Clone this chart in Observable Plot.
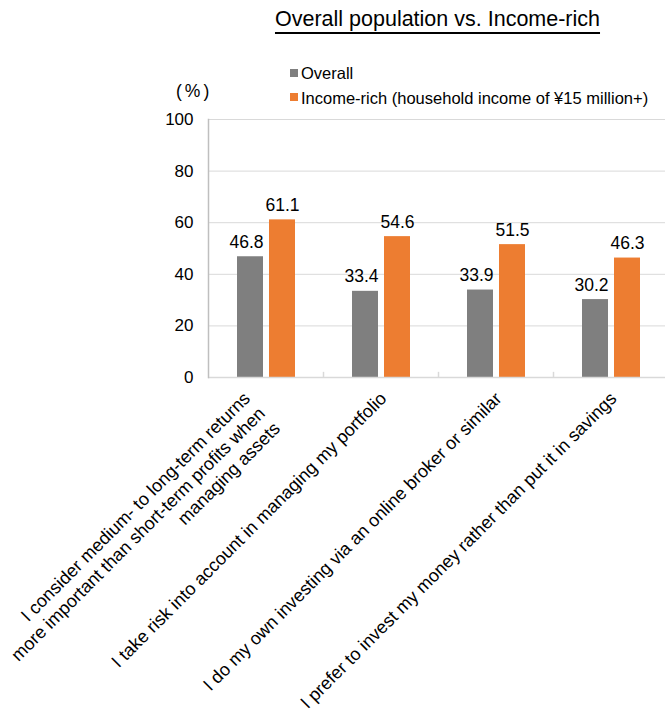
<!DOCTYPE html>
<html><head><meta charset="utf-8">
<script src="https://cdn.jsdelivr.net/npm/d3@7"></script>
<script src="https://cdn.jsdelivr.net/npm/@observablehq/plot@0.6"></script>
<style>
body{margin:0;background:#fff;font-family:"Liberation Sans",Arial,sans-serif;color:#000;}
#wrap{position:relative;width:665px;height:711px;overflow:hidden;}
#wrap svg{position:absolute;left:0;top:0;}
.ov{position:absolute;white-space:nowrap;}
#title{left:437.5px;top:6px;transform:translateX(-50%);font-size:21.5px;line-height:26px;text-decoration:underline;text-underline-offset:6px;text-decoration-thickness:1.5px;}
.leg{left:301px;font-size:16.5px;line-height:20px;}
.sw{position:absolute;left:290px;width:8px;height:8px;}
#unit{left:176px;top:81px;font-size:17.5px;line-height:20px;letter-spacing:3px;}
</style></head>
<body>
<div id="wrap"></div>
<script>
const categories = [
  "I consider medium- to long-term returns\nmore important than short-term profits when\nmanaging assets",
  "I take risk into account in managing my portfolio",
  "I do my own investing via an online broker or similar",
  "I prefer to invest my money rather than put it in savings"
];
const seriesNames = ["Overall", "Income-rich (household income of ¥15 million+)"];
const overallValues = [46.8, 33.4, 33.9, 30.2];
const incomeRichValues = [61.1, 54.6, 51.5, 46.3];
const yTicks = [0, 20, 40, 60, 80, 100];
const seriesColors = ["#7f7f7f", "#ed7d31"];
const titleText = "Overall population vs. Income-rich";
const unitText = "(%)";

const overallRows = categories.map((c, i) => ({cat: c, series: seriesNames[0], value: overallValues[i]}));
const richRows = categories.map((c, i) => ({cat: c, series: seriesNames[1], value: incomeRichValues[i]}));

const xRange = [208, 668];
const half = (xRange[1] - xRange[0]) / categories.length / 2;
const font = '"Liberation Sans", Arial, sans-serif';

const chart = Plot.plot({
  width: 665, height: 711,
  marginTop: 119, marginBottom: 334, marginLeft: 208, marginRight: 0,
  style: {fontFamily: font, fontSize: "17px", color: "#000", background: "transparent", overflow: "visible"},
  x: {domain: categories, range: xRange, padding: 0, axis: null},
  y: {domain: [0, 100], axis: null},
  marks: [
    Plot.gridY(yTicks.filter(t => t > 0), {stroke: "#d9d9d9", strokeOpacity: 1, strokeWidth: 1}),
    Plot.axisY(yTicks, {tickSize: 0, tickPadding: 15, label: null, fontSize: 17, fill: "#000"}),
    Plot.barY(overallRows, {x: "cat", y: "value", fill: seriesColors[0], insetLeft: 29, insetRight: 60}),
    Plot.barY(richRows, {x: "cat", y: "value", fill: seriesColors[1], insetLeft: 61, insetRight: 28}),
    Plot.ruleY([0], {stroke: "#d9d9d9", strokeWidth: 1.5}),
    Plot.frame({anchor: "left", stroke: "#bfbfbf", strokeWidth: 1.5}),
    Plot.ruleX(categories.slice(1), {x: d => d, y1: 0, y2: 2, dx: -half, stroke: "#d9d9d9", strokeWidth: 1.5}),
    Plot.text(overallRows, {x: "cat", y: "value", text: d => d.value.toFixed(1), dx: -19.5, dy: -9, lineAnchor: "bottom", fontSize: 17.5, fill: "#000"}),
    Plot.text(richRows, {x: "cat", y: "value", text: d => d.value.toFixed(1), dx: 16.5, dy: -9, lineAnchor: "bottom", fontSize: 17.5, fill: "#000"}),
    Plot.text(categories.slice(0, 1), {x: d => d, text: d => d, frameAnchor: "bottom", rotate: -45, textAnchor: "end", lineAnchor: "top", lineHeight: 1.18, fontSize: 18, dx: -25.5, dy: 11.5, fill: "#000"}),
    Plot.text(categories.slice(1), {x: d => d, text: d => d, frameAnchor: "bottom", rotate: -45, textAnchor: "end", lineAnchor: "top", lineHeight: 1.18, fontSize: 18, dx: -4, dy: 11.5, fill: "#000"})
  ]
});

const wrap = document.getElementById("wrap");
wrap.appendChild(chart);

function addDiv(cls, id, text, top) {
  const d = document.createElement("div");
  d.className = cls;
  if (id) d.id = id;
  d.textContent = text;
  if (top != null) d.style.top = top + "px";
  wrap.appendChild(d);
  return d;
}
addDiv("ov", "title", titleText);
addDiv("ov", "unit", unitText);
seriesNames.forEach((s, i) => {
  addDiv("ov leg", null, s, 63 + i * 24.5);
  const sw = addDiv("sw", null, "", 68.5 + i * 24.5);
  sw.style.background = seriesColors[i];
});
</script>
</body></html>
